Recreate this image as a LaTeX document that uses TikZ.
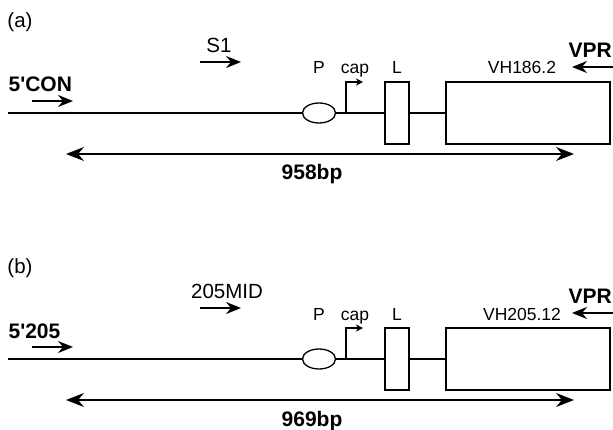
\documentclass[tikz,border=0pt]{standalone}
\usepackage{fontspec}
\setmainfont{Liberation Sans}
\usetikzlibrary{arrows.meta,shapes.geometric}

\tikzset{
  lbl/.style={font=\fontsize{17.5}{20}\selectfont,inner sep=0pt,anchor=base},
  plbl/.style={font=\fontsize{20.5}{23}\selectfont,inner sep=0pt,anchor=base},
  blbl/.style={font=\fontsize{21}{24}\selectfont\bfseries,inner sep=0pt,anchor=base},
  primer/.style={line width=1.9pt,-{Stealth[length=15pt,width=12pt,inset=5pt]}},
  span/.style={line width=1.5pt,{Stealth[length=18pt,width=14pt,inset=6pt]}-{Stealth[length=18pt,width=14pt,inset=6pt]}},
  exon/.style={draw,line width=1.4pt,rectangle,inner sep=0pt,minimum height=62pt}
}

\begin{document}
\begin{tikzpicture}[x=1pt,y=-1pt,line width=1.2pt]
  \useasboundingbox (0,0) rectangle (613,430);
  \foreach \dy/\pn/\fwd/\mid/\midx/\vh/\len in {0/a/{5\textquotesingle CON}/S1/219/VH186.2/958bp,246/b/{5\textquotesingle 205}/205MID/227/VH205.12/969bp} {
    \begin{scope}[shift={(0,\dy)}]
      \node[plbl] (\pn-tag) at (20,28) {(\pn)};
      \node[plbl] (\pn-mid) at (\midx,53) {\mid};
      \coordinate (\pn-m1) at (200,62);
      \coordinate (\pn-m2) at (241,62);
      \draw[primer] (\pn-m1) -- (\pn-m2);
      \node[blbl,anchor=base west] (\pn-fwd) at (8,92) {\fwd};
      \coordinate (\pn-f1) at (32,101);
      \coordinate (\pn-f2) at (73,101);
      \draw[primer] (\pn-f1) -- (\pn-f2);

      \coordinate (\pn-w) at (8,113);
      \node[draw,ellipse,line width=1.3pt,minimum width=33pt,minimum height=20pt,inner sep=0pt] (\pn-P) at (319,113) {};
      \node[exon,minimum width=24pt] (\pn-L) at (397,113) {};
      \node[exon,minimum width=164pt] (\pn-V) at (528,113) {};
      \draw (\pn-w) -- (\pn-P.west);
      \draw (\pn-P.east) -- (\pn-L.west);
      \draw (\pn-L.east) -- (\pn-V.west);
      \coordinate (\pn-c) at (346,113);
      \coordinate (\pn-ct) at (363,82);
      \draw[-{Stealth[length=7pt,width=7pt,inset=2pt]}] (\pn-c) |- (\pn-ct);

      \node[lbl] (\pn-Plbl) at (319,74) {P};
      \node[lbl] (\pn-cap) at (355,74) {cap};
      \node[lbl] (\pn-Llbl) at (397,74) {L};
      \node[lbl] (\pn-vh) at (522,74) {\vh};
      \node[blbl,anchor=base west] (\pn-vpr) at (568,58) {VPR};
      \coordinate (\pn-r1) at (614,67);
      \coordinate (\pn-r2) at (572,67);
      \draw[primer] (\pn-r1) -- (\pn-r2);

      \coordinate (\pn-s1) at (66,154);
      \coordinate (\pn-s2) at (574,154);
      \draw[span] (\pn-s1) -- (\pn-s2);
      \node[blbl] (\pn-len) at (312,180) {\len};
    \end{scope}
  }
\end{tikzpicture}
\end{document}
